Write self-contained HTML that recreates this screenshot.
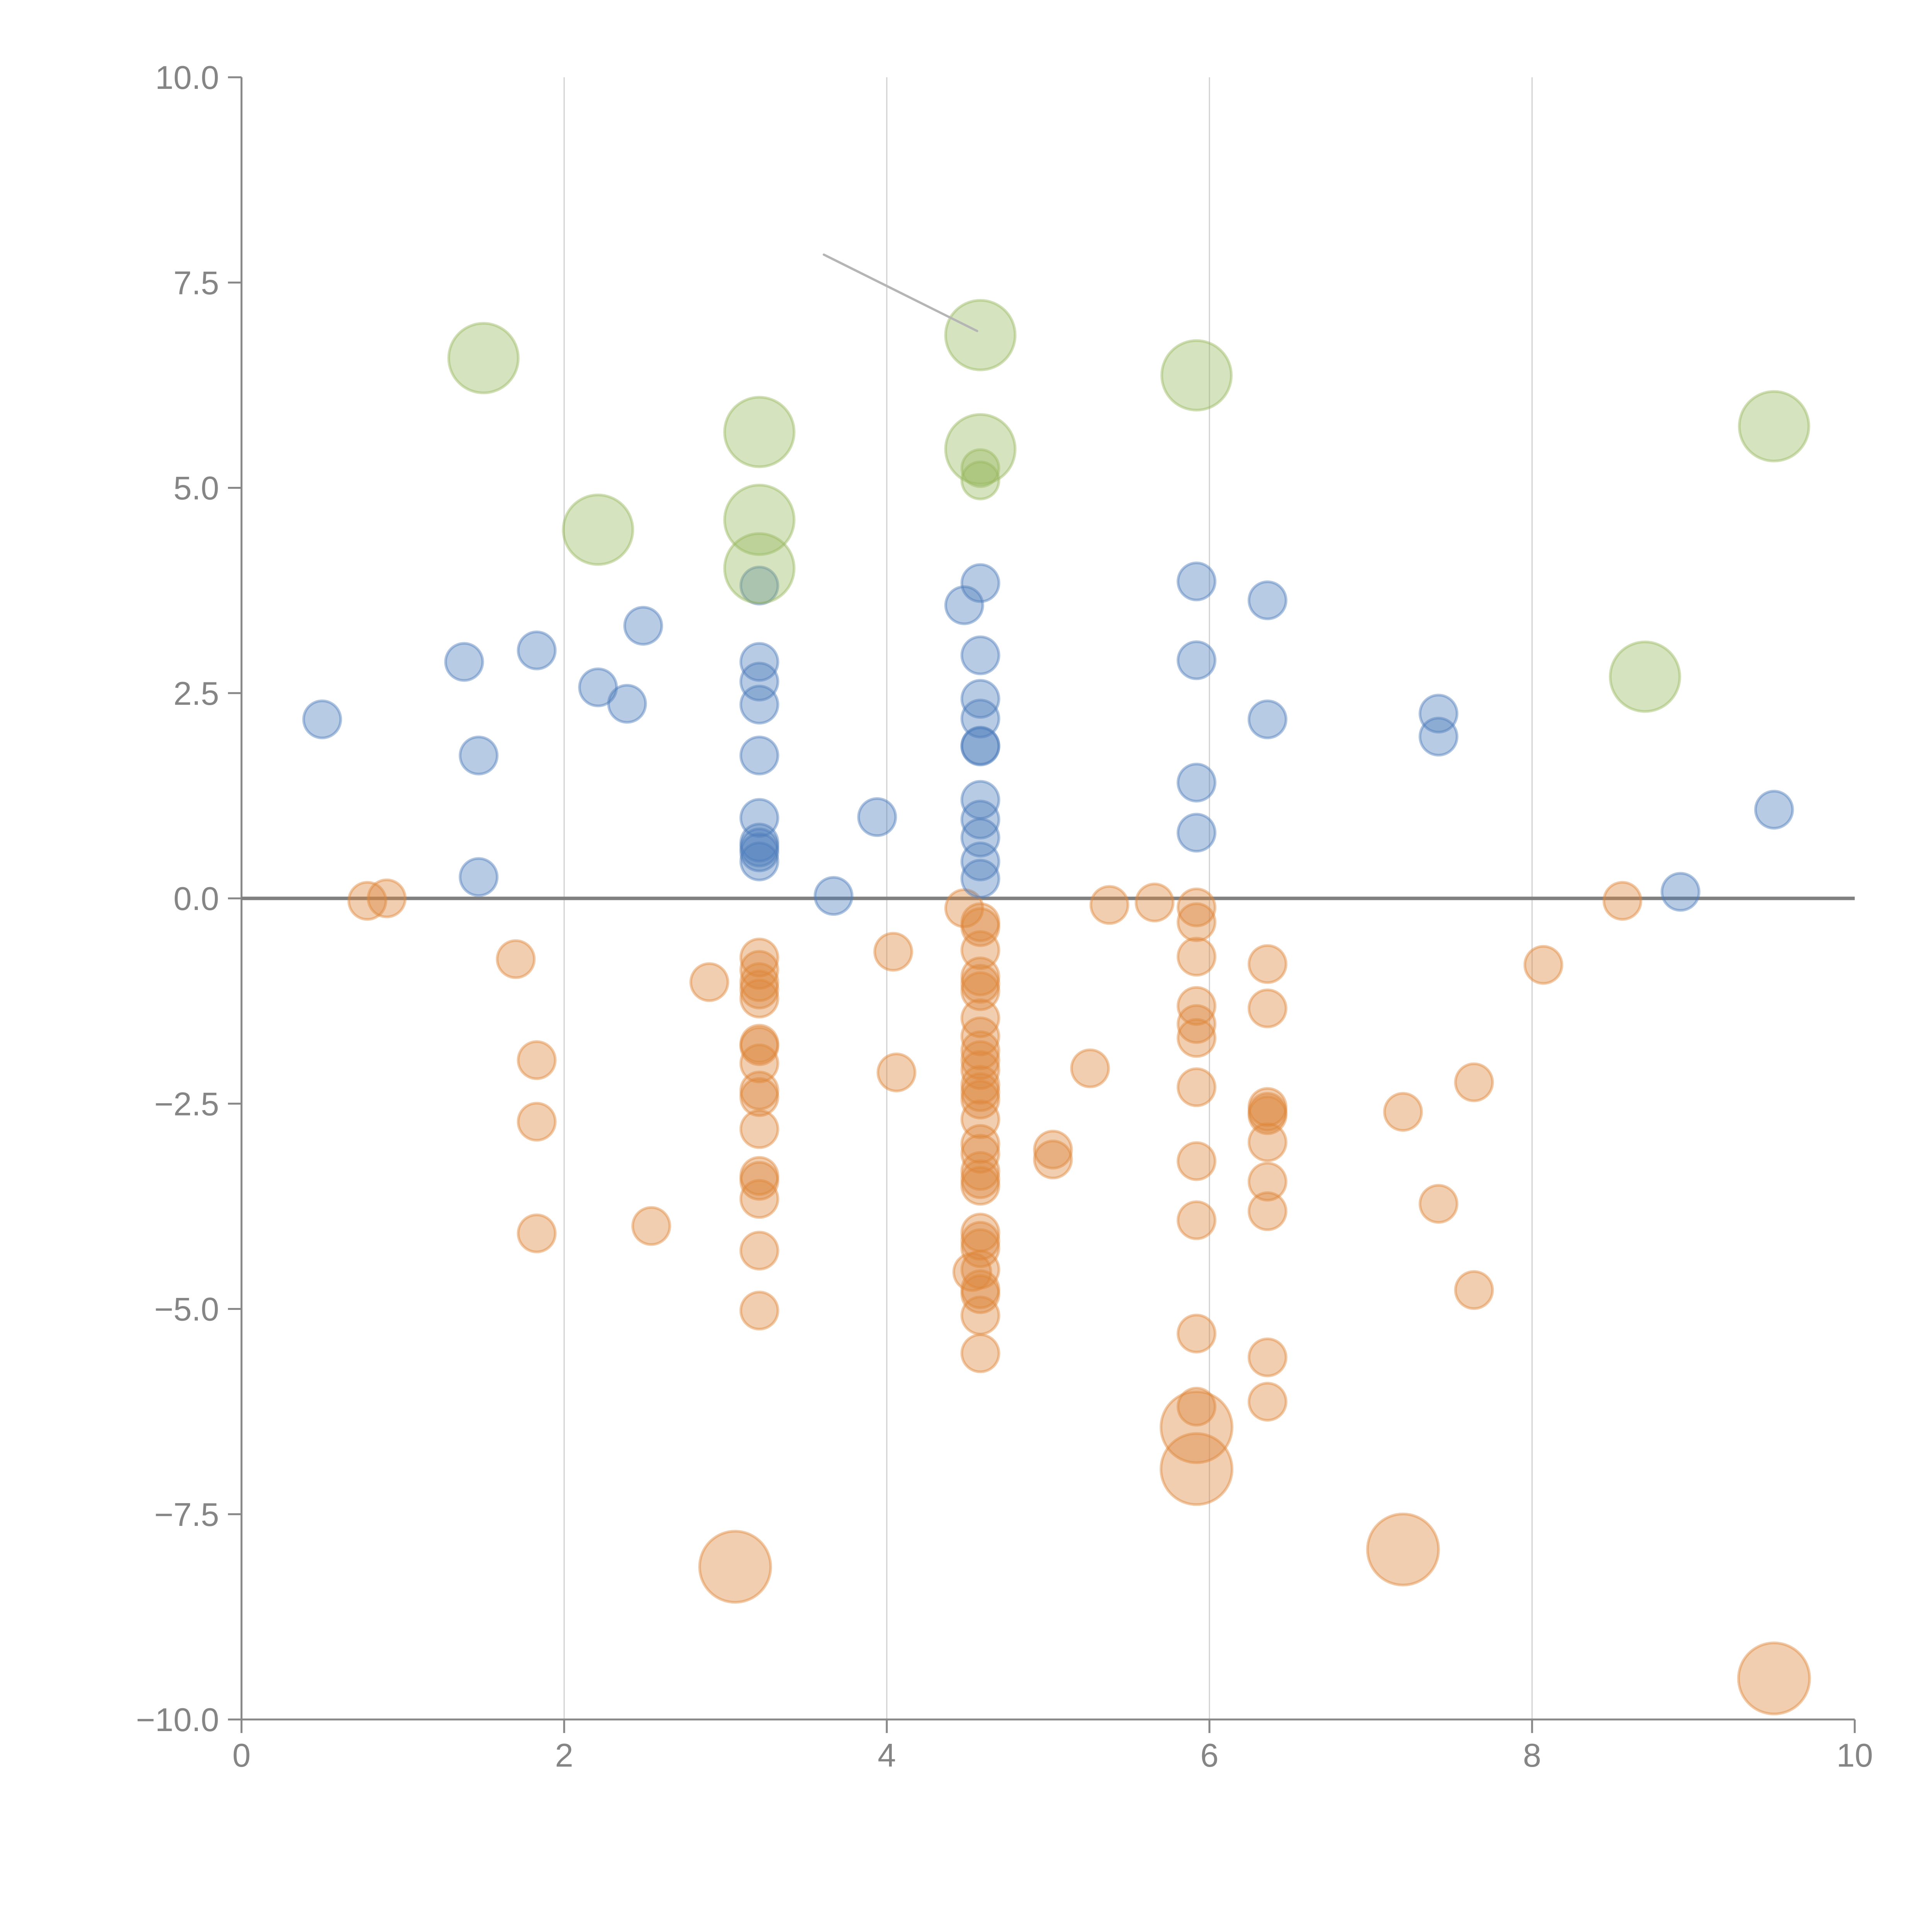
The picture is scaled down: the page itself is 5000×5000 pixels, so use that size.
<!DOCTYPE html>
<html><head><meta charset="utf-8"><style>
html,body{margin:0;padding:0;background:#fff;}
svg{display:block;}
text{font-family:"Liberation Sans",Arial,sans-serif;fill:#858585;}
</style></head><body>
<svg id="chart" width="5000" height="5000" viewBox="0 0 5000 5000" xmlns="http://www.w3.org/2000/svg">
<g id="grid"></g>
<g id="axes"></g>
<g id="marks"></g>
</svg>
<script>
const xTicks=[0,2,4,6,8,10];
const xTickLabels=["0","2","4","6","8","10"];
const yTicks=[10,7.5,5,2.5,0,-2.5,-5,-7.5,-10];
const yTickLabels=["10.0","7.5","5.0","2.5","0.0","\u22122.5","\u22125.0","\u22127.5","\u221210.0"];

const blueX=[0.50,1.38,1.47,1.47,1.83,2.21,2.39,2.49,3.21,3.21,3.21,3.21,3.21,3.21,3.21,3.21,3.21,3.21,3.67,3.94,4.48,4.58,4.58,4.58,4.58,4.58,4.58,4.58,4.58,4.58,4.58,4.58,5.92,5.92,5.92,5.92,6.36,6.36,7.42,7.42,8.92,9.50];
const blueY=[2.18,2.88,1.74,0.26,3.02,2.57,2.37,3.32,3.81,2.88,2.64,2.36,1.74,0.98,0.68,0.62,0.45,0.56,0.03,0.99,3.57,3.84,2.96,2.43,2.19,1.86,1.85,1.20,0.96,0.74,0.45,0.24,3.86,2.90,1.41,0.80,3.63,2.18,2.25,1.97,0.08,1.08];

const greenX=[1.50,2.21,3.21,3.21,3.21,4.58,4.58,4.58,4.58,5.92,9.50,8.70];
const greenY=[6.58,4.49,5.68,4.61,4.02,6.86,5.47,5.24,5.09,6.37,5.75,2.70];
const greenSize=[2,2,2,2,2,2,2,1,1,2,2,2];

const orangeX=[0.78,0.90,1.70,1.83,1.83,1.83,2.54,2.90,
3.21,3.21,3.21,3.21,3.21,3.21,3.21,3.21,3.21,3.21,3.21,3.21,3.21,3.21,3.21,3.21,
3.06,4.04,4.06,4.48,4.53,
4.58,4.58,4.58,4.58,4.58,4.58,4.58,4.58,4.58,4.58,4.58,4.58,4.58,4.58,4.58,4.58,4.58,4.58,4.58,4.58,4.58,4.58,4.58,4.58,4.58,4.58,4.58,4.58,
5.03,5.03,5.26,5.38,5.66,
5.92,5.92,5.92,5.92,5.92,5.92,5.92,5.92,5.92,5.92,5.92,5.92,5.92,
6.36,6.36,6.36,6.36,6.36,6.36,6.36,6.36,6.36,6.36,
7.20,7.20,7.42,7.64,7.64,8.07,8.56,9.50];
const orangeY=[-0.03,0,-0.74,-1.97,-2.72,-4.08,-3.99,-1.02,
-0.72,-0.87,-1.02,-1.11,-1.22,-1.77,-1.80,-2.01,-2.34,-2.42,-2.81,-3.38,-3.44,-3.66,-4.29,-5.02,
-8.14,-0.65,-2.12,-0.12,-4.55,
-0.29,-0.35,-0.63,-0.95,-1.04,-1.13,-1.46,-1.68,-1.85,-1.97,-2.09,-2.27,-2.36,-2.45,-2.69,-2.99,-3.11,-3.32,-3.42,-3.50,-4.07,-4.17,-4.26,-4.52,-4.76,-4.82,-5.08,-5.54,
-3.06,-3.18,-2.07,-0.08,-0.05,
-0.11,-0.29,-0.71,-1.31,-1.53,-1.70,-2.30,-3.20,-3.92,-5.30,-6.19,-6.44,-6.95,
-0.80,-1.34,-2.54,-2.60,-2.64,-2.97,-3.45,-3.81,-5.59,-6.13,
-2.60,-7.93,-3.72,-2.24,-4.77,-0.81,-0.03,-9.50];
const orangeLarge=[24,73,74,86,92];

const X0=625,X1=4800,Y0=4450,Y1=200;
function sx(v){return X0+(v-0)/(10-0)*(X1-X0);}
function sy(v){return Y0-(v-(-10))/(20)*(Y0-Y1);}
const NS="http://www.w3.org/2000/svg";
function mk(tag,attrs,parent){const e=document.createElementNS(NS,tag);for(const k in attrs)e.setAttribute(k,attrs[k]);parent.appendChild(e);return e;}
const grid=document.getElementById('grid'),axes=document.getElementById('axes'),marks=document.getElementById('marks');

xTicks.forEach((t,i)=>{
  if(t>0&&t<10){const g=mk('line',{x1:sx(t),x2:sx(t),y1:Y1,y2:Y0,stroke:'#d0d0d0','stroke-width':3},grid);
  
  }
  const tk=mk('line',{x1:sx(t),x2:sx(t),y1:Y0,y2:Y0+35,stroke:'#888','stroke-width':5},axes);
  
  
  const lb=mk('text',{x:sx(t),y:Y0+122,'font-size':85,'text-anchor':'middle'},axes);
  lb.textContent=xTickLabels[i];
  
  
});
yTicks.forEach((t,i)=>{
  const tk=mk('line',{x1:X0-35,x2:X0,y1:sy(t),y2:sy(t),stroke:'#888','stroke-width':5},axes);
  
  
  const lb=mk('text',{x:X0-58,y:sy(t)+30,'font-size':85,'text-anchor':'end'},axes);
  lb.textContent=yTickLabels[i];
  
  
});
const ya=mk('line',{x1:X0,x2:X0,y1:Y1,y2:Y0+35,stroke:'#888','stroke-width':5},axes);


const xa=mk('line',{x1:X0-35,x2:X1,y1:Y0,y2:Y0,stroke:'#888','stroke-width':5},axes);


const zl=mk('line',{x1:X0,x2:X1,y1:sy(0),y2:sy(0),stroke:'#808080','stroke-width':9},axes);



function dot(x,y,r,fill,stroke,name){
  const c=mk('circle',{cx:sx(x),cy:sy(y),r:r,fill:fill,'fill-opacity':0.4,stroke:stroke,'stroke-opacity':0.45,'stroke-width':7},marks);
  
  
}
orangeX.forEach((x,i)=>dot(x,orangeY[i],orangeLarge.includes(i)?92:48,'#db853a','#e0873a','orange-point'));
blueX.forEach((x,i)=>dot(x,blueY[i],48,'#4d7dbb','#4d7dbb','blue-point'));
greenX.forEach((x,i)=>dot(x,greenY[i],greenSize[i]==2?90:48,'#98b95f','#98b95f','green-point'));

const ann=mk('line',{x1:sx(3.61),y1:sy(7.84),x2:sx(4.56),y2:sy(6.91),stroke:'#b5b5b5','stroke-width':6,'stroke-linecap':'round'},marks);


</script>
</body></html>
